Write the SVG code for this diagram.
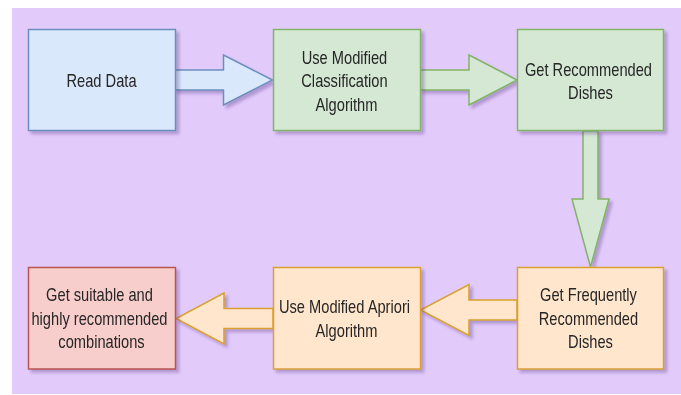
<svg xmlns="http://www.w3.org/2000/svg" width="681" height="395" viewBox="0 0 681 395">
  <style>
    .lbl { font-family: "Liberation Sans", Arial, sans-serif; font-size: 18px; fill: #262626; text-anchor: middle; }
    .blue { fill: #dae8fc; stroke: #6c8ebf; stroke-width: 1.5; }
    .green { fill: #d5e8d4; stroke: #82b366; stroke-width: 1.5; }
    .orange { fill: #ffe6cc; stroke: #d9a030; stroke-width: 1.5; }
    .red { fill: #f8cecc; stroke: #b85450; stroke-width: 1.5; }
  </style>
  <defs>
    <filter id="shadow" x="-10%" y="-10%" width="130%" height="130%">
      <feDropShadow dx="3" dy="3" stdDeviation="1.6" flood-color="#3c1f6e" flood-opacity="0.3"/>
    </filter>
  </defs>

  <!-- page background -->
  <rect x="0" y="0" width="681" height="395" fill="#ffffff"/>
  <rect x="12" y="8" width="669" height="386" fill="#e2cbfb"/>

  <!-- block arrows -->
  <g id="connectors" stroke-linejoin="miter" filter="url(#shadow)">
    <polygon class="blue" points="175,70 223.5,70 223.5,55 272.5,80 223.5,105 223.5,90 175,90"/>
    <polygon class="green" points="420,70 469,70 469,55 517,80 469,105 469,90 420,90"/>
    <polygon class="green" points="583,131 583,199 572,199 590.5,267 609,199 598,199 598,131"/>
    <polygon class="orange" points="517,300 469,300 469,284.5 420.5,310 469,335.5 469,320 517,320"/>
    <polygon class="orange" points="273,308.5 224,308.5 224,293 176,318.5 224,344 224,328.5 273,328.5"/>
  </g>

  <g id="read-data" filter="url(#shadow)">
    <rect class="blue" x="28.5" y="29.5" width="147" height="101"/>
    <text class="lbl" transform="translate(101.5,0) scale(0.815,1)" x="0" y="87">Read Data</text>
  </g>

  <g id="classification" filter="url(#shadow)">
    <rect class="green" x="273.5" y="29.5" width="147" height="101"/>
    <text class="lbl" transform="translate(346.5,0) scale(0.815,1)">
      <tspan x="0" y="64">Use Modified</tspan>
      <tspan x="0" y="87.5">Classification</tspan>
      <tspan x="0" y="111">Algorithm</tspan>
    </text>
  </g>

  <g id="recommended" filter="url(#shadow)">
    <rect class="green" x="517.5" y="29.5" width="146" height="101"/>
    <text class="lbl" transform="translate(590.5,0) scale(0.815,1)">
      <tspan x="0" y="76.5">Get Recommended</tspan>
      <tspan x="0" y="99.5">Dishes</tspan>
    </text>
  </g>

  <g id="frequent" filter="url(#shadow)">
    <rect class="orange" x="517.5" y="267.5" width="146" height="101.5"/>
    <text class="lbl" transform="translate(590.5,0) scale(0.815,1)">
      <tspan x="0" y="301.5">Get Frequently</tspan>
      <tspan x="0" y="325">Recommended</tspan>
      <tspan x="0" y="348.5">Dishes</tspan>
    </text>
  </g>

  <g id="apriori" filter="url(#shadow)">
    <rect class="orange" x="273.5" y="267.5" width="147" height="101.5"/>
    <text class="lbl" transform="translate(346.5,0) scale(0.815,1)">
      <tspan x="0" y="313.5">Use Modified Apriori</tspan>
      <tspan x="0" y="337">Algorithm</tspan>
    </text>
  </g>

  <g id="combinations" filter="url(#shadow)">
    <rect class="red" x="28.5" y="267.5" width="147" height="101.5"/>
    <text class="lbl" transform="translate(101.5,0) scale(0.815,1)">
      <tspan x="0" y="301.5">Get suitable and</tspan>
      <tspan x="0" y="325">highly recommended</tspan>
      <tspan x="0" y="348.5">combinations</tspan>
    </text>
  </g>
</svg>
